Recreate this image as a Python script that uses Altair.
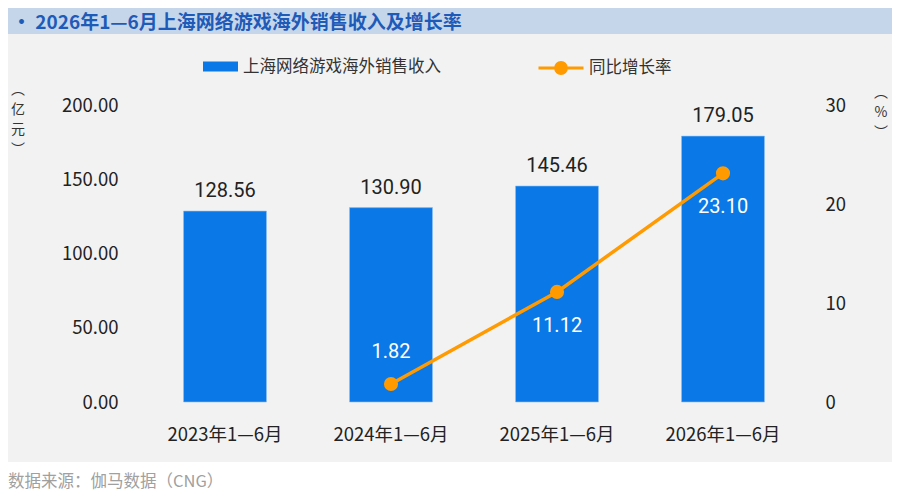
import altair as alt
import pandas as pd

periods = ["2023年1—6月", "2024年1—6月", "2025年1—6月", "2026年1—6月"]
revenue = [128.56, 130.90, 145.46, 179.05]
growth = [None, 1.82, 11.12, 23.10]
label_pos = ["none", "above", "below", "below"]

bar_name = "上海网络游戏海外销售收入"
line_name = "同比增长率"

df = pd.DataFrame({"period": periods, "revenue": revenue, "growth": growth, "pos": label_pos})

FONT = "Noto Sans CJK SC"
BLUE = "#0a78e6"
ORANGE = "#ff9a00"
TICK = 18.5

xenc = alt.X("period:N", sort=periods, title=None,
             scale=alt.Scale(paddingInner=0.5, paddingOuter=0.25),
             axis=alt.Axis(labelAngle=0, labelFontSize=TICK, labelColor="#222222", labelFont=FONT,
                           labelPadding=23, domain=False, ticks=False, grid=False, zindex=2))

base = alt.Chart(df)

bars = base.mark_bar(stroke="#8fc1f0", strokeWidth=0.6).transform_calculate(s1=f"'{bar_name}'").encode(
    x=xenc,
    y=alt.Y("revenue:Q", title=None, scale=alt.Scale(domain=[0, 200]),
            axis=alt.Axis(values=[0, 50, 100, 150, 200], format=".2f", labelFontSize=TICK,
                          labelColor="#222222", labelFont=FONT, labelPadding=24,
                          domain=False, ticks=False, grid=False, zindex=2)),
    color=alt.Color("s1:N", scale=alt.Scale(range=[BLUE]),
                    legend=alt.Legend(orient="none", legendX=61, legendY=-56, title=None,
                                      symbolType="M-1,-0.2857H1V0.2857H-1Z", symbolSize=1225,
                                      symbolStrokeWidth=0, labelFontSize=16.5, labelFont=FONT,
                                      labelColor="#333333", labelOffset=5, padding=0,
                                      labelLimit=400, zindex=2)),
)
bar_labels = base.mark_text(baseline="bottom", dy=-10, fontSize=20, font="Roboto", color="#222222").encode(
    x=alt.X("period:N", sort=periods),
    y="revenue:Q",
    text=alt.Text("revenue:Q", format=".2f"),
)
bar_layer = alt.layer(bars, bar_labels)

gbase = base.transform_filter("datum.growth != null")
gy = alt.Y("growth:Q", title=None, scale=alt.Scale(domain=[0, 30]),
           axis=alt.Axis(orient="right", values=[0, 10, 20, 30], format="d", labelFontSize=TICK,
                         labelColor="#222222", labelFont=FONT, labelPadding=19,
                         domain=False, ticks=False, grid=False, zindex=2))
line = gbase.mark_line(strokeWidth=3.5).transform_calculate(s2=f"'{line_name}'").encode(
    x=alt.X("period:N", sort=periods),
    y=gy,
    stroke=alt.Stroke("s2:N", scale=alt.Scale(range=[ORANGE]),
                      legend=alt.Legend(orient="none", legendX=395, legendY=-61, title=None,
                                        symbolType="M-1,0H1M-0.24,0A0.24,0.24 0 1,0 0.24,0A0.24,0.24 0 1,0 -0.24,0Z",
                                        symbolSize=2025, symbolStrokeWidth=3, symbolFillColor=ORANGE,
                                        labelFontSize=16.5, labelFont=FONT, labelColor="#333333",
                                        labelOffset=4, padding=0, labelLimit=400, zindex=2)),
)
points = gbase.mark_circle(size=200, color=ORANGE, opacity=1).encode(
    x=alt.X("period:N", sort=periods), y="growth:Q")
lbl_above = gbase.transform_filter("datum.pos == 'above'").mark_text(
    dy=-32, fontSize=20, font="Roboto", color="white").encode(
    x=alt.X("period:N", sort=periods), y="growth:Q", text=alt.Text("growth:Q", format=".2f"))
lbl_below = gbase.transform_filter("datum.pos == 'below'").mark_text(
    dy=34, fontSize=20, font="Roboto", color="white").encode(
    x=alt.X("period:N", sort=periods), y="growth:Q", text=alt.Text("growth:Q", format=".2f"))
line_layer = alt.layer(line, points, lbl_above, lbl_below)

one = alt.Data(values=[{"k": 1}])
title_bar = alt.Chart(one).mark_rect(color="#c6d6ea").encode(
    x=alt.value(-134), x2=alt.value(750), y=alt.value(-97), y2=alt.value(-71))
panel = alt.Chart(one).mark_rect(color="#f2f2f2").encode(
    x=alt.value(-134), x2=alt.value(750), y=alt.value(-71), y2=alt.value(357))
title_txt = alt.Chart(one).mark_text(align="left", baseline="middle", fontSize=19, fontWeight="bold",
                                     font=FONT, color="#1e5bb8").encode(
    x=alt.value(-130), y=alt.value(-82), text=alt.value("•  2026年1—6月上海网络游戏海外销售收入及增长率"))
src_txt = alt.Chart(one).mark_text(align="left", baseline="middle", fontSize=16.5, font=FONT,
                                   color="#a0a0a0").encode(
    x=alt.value(-134), y=alt.value(377), text=alt.value("数据来源：伽马数据（CNG）"))
unit_l = alt.Chart(one).mark_text(align="center", baseline="top", fontSize=14, font=FONT,
                                  color="#333333", lineHeight=20).encode(
    x=alt.value(-124), y=alt.value(-22), text=alt.value(["︵", "亿", "元", "︶"]))
unit_r = alt.Chart(one).mark_text(align="center", baseline="top", fontSize=14, font=FONT,
                                  color="#333333", lineHeight=20).encode(
    x=alt.value(739), y=alt.value(-19), text=alt.value(["︵", "%", "︶"]))

chart = alt.layer(title_bar, panel, title_txt, src_txt, unit_l, unit_r, bar_layer, line_layer).resolve_scale(
    y="independent", color="independent").properties(
    width=664, height=297,
    autosize=alt.AutoSizeParams(type="none"),
    padding={"left": 134, "right": 86, "top": 97, "bottom": 90},
    background="white",
).configure_view(stroke=None)

chart.save("out.html", embed_options={"renderer": "svg", "actions": False})
